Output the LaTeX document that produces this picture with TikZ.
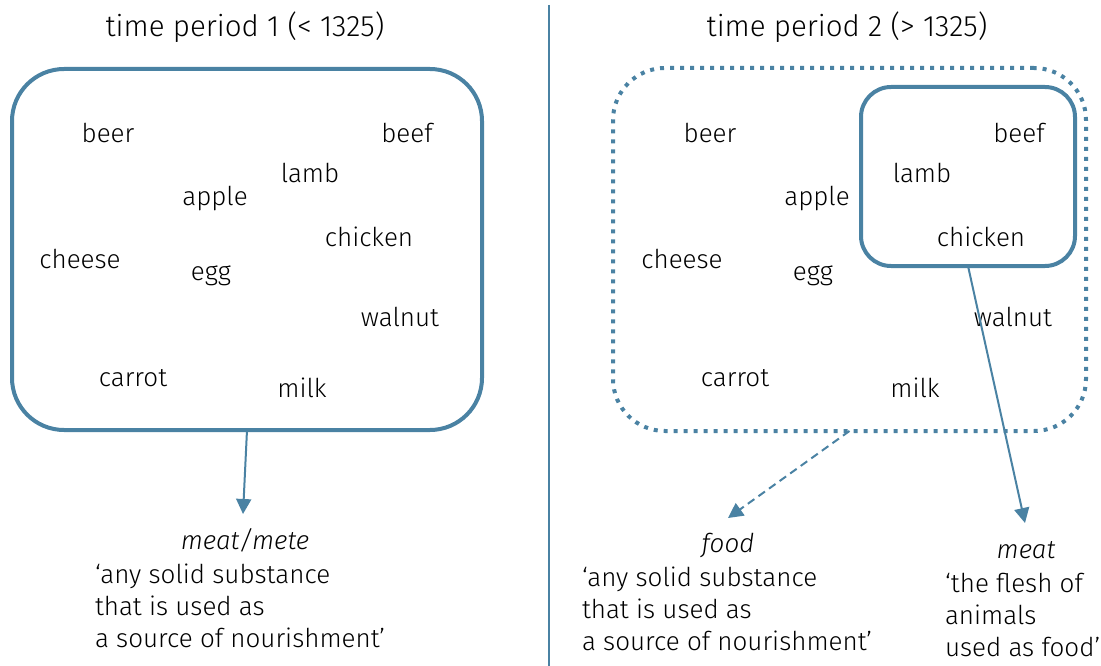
\documentclass[tikz,border=0pt]{standalone}
\usepackage{fontspec}
\setmainfont{Fira Sans Light}
\usetikzlibrary{arrows.meta}
\definecolor{steel}{RGB}{74,130,163}
\begin{document}
\begin{tikzpicture}[x=1pt,y=-1pt,
  every node/.style={inner sep=0pt, outer sep=0pt},
  word/.style={font=\fontsize{26}{26}\selectfont, anchor=center},
  title/.style={font=\fontsize{29.5}{30}\selectfont, anchor=base},
  gloss/.style={font=\fontsize{26}{32}\selectfont, align=left, anchor=base west},
  head/.style={font=\fontsize{26}{26}\selectfont\itshape, anchor=base},
  setbox/.style={draw=steel, line width=4pt, rounded corners=52pt},
  subbox/.style={draw=steel, line width=4pt, rounded corners=30pt},
  dotbox/.style={draw=steel, line width=4pt, rounded corners=52pt, dash pattern=on 4pt off 6pt},
  link/.style={draw=steel, line width=2pt, -{Triangle[width=15pt,length=15pt]}},
]
\useasboundingbox (0,0) rectangle (1101,666);

% divider between the two periods
\coordinate (divtop) at (549,5);
\coordinate (divbot) at (549,666);
\draw[steel, line width=1.5pt] (divtop) -- (divbot);

% ---- period 1 ----
\node[title] (t1) at (245,37) {time period 1 (< 1325)};
\node[setbox, minimum width=470pt, minimum height=361pt] (box1) at (247,249.5) {};
\node[word] (beerA) at (108,133) {beer};
\node[word] (beefA) at (407,133) {beef};
\node[word] (lambA) at (310,173) {lamb};
\node[word] (appleA) at (215,199) {apple};
\node[word] (chickenA) at (369,237) {chicken};
\node[word] (cheeseA) at (80,259) {cheese};
\node[word] (eggA) at (211,276) {egg};
\node[word] (walnutA) at (400,317) {walnut};
\node[word] (carrotA) at (133,378) {carrot};
\node[word] (milkA) at (302,388) {milk};

% the base anchor of a multi-line gloss sits on its last line
\node[head] (meteA) at (245,549) {meat/mete};
\node[gloss] (glossA) at (95,647) {‘any solid substance\\that is used as\\a source of nourishment’};
\coordinate (tipA) at (243,514);
\draw[link] (box1.south) -- (tipA);

% ---- period 2 ----
\node[title] (t2) at (847,37) {time period 2 (> 1325)};
\node[dotbox, minimum width=473pt, minimum height=363pt] (box2) at (849.5,249.5) {};
\node[subbox, minimum width=214pt, minimum height=179pt] (box3) at (968,176.5) {};
\node[word] (beerB) at (710,133) {beer};
\node[word] (beefB) at (1019,133) {beef};
\node[word] (lambB) at (922,173) {lamb};
\node[word] (appleB) at (817,199) {apple};
\node[word] (chickenB) at (981,237) {chicken};
\node[word] (cheeseB) at (682,259) {cheese};
\node[word] (eggB) at (813,276) {egg};
\node[word] (walnutB) at (1013,317) {walnut};
\node[word] (carrotB) at (735,378) {carrot};
\node[word] (milkB) at (915,388) {milk};

\node[head] (foodB) at (728,552) {food};
\node[gloss] (glossB) at (582,650) {‘any solid substance\\that is used as\\a source of nourishment’};
\node[head] (meatB) at (1026,558) {meat};
\node[gloss] (glossC) at (945,656) {‘the flesh of\\animals\\used as food’};

\coordinate (tipB) at (728,518);
\coordinate (tipC) at (1025,523);
\draw[link, dash pattern=on 8pt off 5pt] (box2.south) -- (tipB);
\draw[link] (box3.south) -- (tipC);
\end{tikzpicture}
\end{document}
